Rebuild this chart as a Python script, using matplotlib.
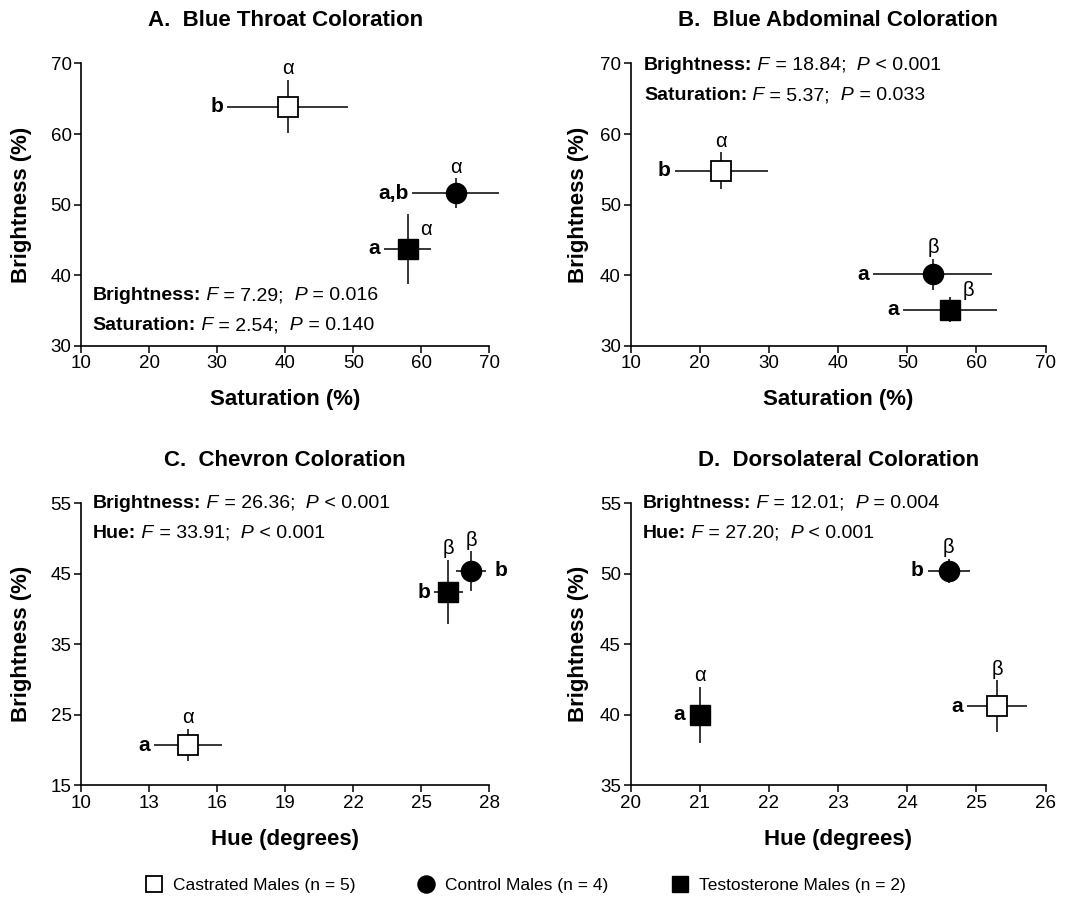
import matplotlib
matplotlib.use('Agg')
import matplotlib.pyplot as plt
from matplotlib.lines import Line2D

plt.rcParams['font.family'] = ['Liberation Sans', 'DejaVu Sans']

groups = ['Castrated Males (n = 5)', 'Control Males (n = 4)',
          'Testosterone Males (n = 2)']

# A. blue throat: saturation (x) vs brightness (y), mean +- SE
throat_sat = [40.4, 65.1, 58.0]
throat_sat_se = [8.9, 6.4, 3.5]
throat_bri = [63.9, 51.6, 43.7]
throat_bri_se = [3.8, 2.1, 4.9]
throat_letters = ['b', 'a,b', 'a']
throat_greek = ['\u03b1', '\u03b1', '\u03b1']
throat_stats = [('Brightness', '7.29', '=', '0.016'),
                ('Saturation', '2.54', '=', '0.140')]

# B. blue abdominal
abd_sat = [23.1, 53.7, 56.2]
abd_sat_se = [6.7, 8.6, 6.8]
abd_bri = [54.8, 40.1, 35.1]
abd_bri_se = [2.6, 2.2, 1.8]
abd_letters = ['b', 'a', 'a']
abd_greek = ['\u03b1', '\u03b2', '\u03b2']
abd_stats = [('Brightness', '18.84', '<', '0.001'),
             ('Saturation', '5.37', '=', '0.033')]

# C. chevron: hue (x) vs brightness (y)
chev_hue = [14.7, 27.2, 26.2]
chev_hue_se = [1.5, 0.65, 0.63]
chev_bri = [20.7, 45.4, 42.4]
chev_bri_se = [2.3, 2.8, 4.6]
chev_letters = ['a', 'b', 'b']
chev_greek = ['\u03b1', '\u03b2', '\u03b2']
chev_stats = [('Brightness', '26.36', '<', '0.001'),
              ('Hue', '33.91', '<', '0.001')]

# D. dorsolateral
dors_hue = [25.3, 24.6, 21.0]
dors_hue_se = [0.43, 0.3, 0.05]
dors_bri = [40.6, 50.2, 40.0]
dors_bri_se = [1.85, 0.86, 2.0]
dors_letters = ['a', 'b', 'a']
dors_greek = ['\u03b2', '\u03b2', '\u03b1']
dors_stats = [('Brightness', '12.01', '=', '0.004'),
              ('Hue', '27.20', '<', '0.001')]

STYLES = [dict(marker='s', mfc='white', mec='black', mew=1.3, ms=14),
          dict(marker='o', mfc='black', mec='black', mew=1, ms=14.5),
          dict(marker='s', mfc='black', mec='black', mew=1, ms=14)]

STAT_FS = 14


def add_stat(ax, x, y, name, f, rel, p):
    pieces = [(' F', 'normal', 'italic'), (' = %s;' % f, 'normal', 'normal'),
              ('  P', 'normal', 'italic'), (' %s %s' % (rel, p), 'normal', 'normal')]
    t = ax.text(x, y, name + ':', transform=ax.transAxes, fontsize=STAT_FS,
                fontweight='bold', va='center', ha='left')
    for s, w, st in pieces:
        t = ax.annotate(s, xy=(1, 0), xycoords=t, va='bottom', ha='left',
                        fontsize=STAT_FS, fontweight=w, fontstyle=st)


def label_point(ax, x, y, xe, ye, letter, side, greek, gpos):
    to_pt = 72.0 / ax.figure.dpi
    p0 = ax.transData.transform((x, y))
    xe_pt = (ax.transData.transform((x + xe, y))[0] - p0[0]) * to_pt
    ye_pt = (ax.transData.transform((x, y + ye))[1] - p0[1]) * to_pt
    dx = max(xe_pt, 7.5) + 3
    if side == 'left':
        ax.annotate(letter, (x, y), xytext=(-dx, 0), textcoords='offset points',
                    ha='right', va='center', fontsize=15, fontweight='bold')
    else:
        ax.annotate(letter, (x, y), xytext=(dx + 3, 0), textcoords='offset points',
                    ha='left', va='center', fontsize=15, fontweight='bold')
    if gpos == 'above':
        dy = max(ye_pt, 7.5) + 8
        ax.annotate(greek, (x, y), xytext=(0, dy), textcoords='offset points',
                    ha='center', va='center', fontsize=14.5)
    else:
        ax.annotate(greek, (x, y), xytext=(13, 14), textcoords='offset points',
                    ha='center', va='center', fontsize=14.5)


def panel(fig, rect, title, xs, xse, ys, yse, letters, greek, sides, gpos,
          xlim, xticks, ylim, yticks, xlabel, stats, stat_pos, ylab_x):
    ax = fig.add_axes(rect)
    ax.set_xlim(*xlim)
    ax.set_ylim(*ylim)
    ax.set_xticks(xticks)
    ax.set_yticks(yticks)
    for s in ('top', 'right'):
        ax.spines[s].set_visible(False)
    for s in ('left', 'bottom'):
        ax.spines[s].set_linewidth(1.2)
    ax.tick_params(direction='out', length=5, width=1.1, labelsize=13.5, pad=2)

    for i in range(3):
        cont = ax.errorbar(xs[i], ys[i], xerr=xse[i], yerr=yse[i], ls='none',
                           ecolor='black', elinewidth=1.1, capsize=0, **STYLES[i])
        for art in cont.get_children():
            art.set_clip_on(False)
        label_point(ax, xs[i], ys[i], xse[i], yse[i], letters[i], sides[i],
                    greek[i], gpos[i])

    ax.set_title(title, fontsize=16, fontweight='bold', pad=27)
    ax.set_xlabel(xlabel, fontsize=16, fontweight='bold')
    ax.set_ylabel('Brightness (%)', fontsize=16, fontweight='bold')
    ax.xaxis.set_label_coords(0.5, -0.155)
    ax.yaxis.set_label_coords(ylab_x, 0.5)

    sx, sy = stat_pos
    for k, st in enumerate(stats):
        add_stat(ax, sx, sy - k * 0.107, *st)
    return ax


def main():
    fig = plt.figure(figsize=(10.72, 9.07), dpi=100)

    panel(fig, [0.0758, 0.619, 0.3806, 0.311], 'A.  Blue Throat Coloration',
          throat_sat, throat_sat_se, throat_bri, throat_bri_se,
          throat_letters, throat_greek, ['left'] * 3,
          ['above', 'above', 'right'],
          (10, 70), range(10, 71, 10), (30, 70), range(30, 71, 10),
          'Saturation (%)', throat_stats, (0.028, 0.177), -0.12)

    panel(fig, [0.5883, 0.619, 0.3871, 0.311], 'B.  Blue Abdominal Coloration',
          abd_sat, abd_sat_se, abd_bri, abd_bri_se,
          abd_letters, abd_greek, ['left'] * 3,
          ['above', 'above', 'right'],
          (10, 70), range(10, 71, 10), (30, 70), range(30, 71, 10),
          'Saturation (%)', abd_stats, (0.032, 0.993), -0.10)

    panel(fig, [0.0758, 0.1342, 0.3806, 0.311], 'C.  Chevron Coloration',
          chev_hue, chev_hue_se, chev_bri, chev_bri_se,
          chev_letters, chev_greek, ['left', 'right', 'left'],
          ['above'] * 3,
          (10, 28), range(10, 29, 3), (15, 55), range(15, 56, 10),
          'Hue (degrees)', chev_stats, (0.029, 1.0), -0.12)

    panel(fig, [0.5883, 0.1342, 0.3871, 0.311], 'D.  Dorsolateral Coloration',
          dors_hue, dors_hue_se, dors_bri, dors_bri_se,
          dors_letters, dors_greek, ['left'] * 3,
          ['above'] * 3,
          (20, 26), range(20, 27, 1), (35, 55), range(35, 56, 5),
          'Hue (degrees)', dors_stats, (0.029, 1.0), -0.10)

    handles = [Line2D([], [], ls='none', **st) for st in STYLES]
    fig.legend(handles, groups, loc='center', bbox_to_anchor=(0.49, 0.024),
               ncol=3, frameon=False, fontsize=12.5, handlelength=1,
               handletextpad=0.6, columnspacing=3.6, markerscale=0.85)

    fig.savefig('out.png', dpi=100)


if __name__ == '__main__':
    main()
